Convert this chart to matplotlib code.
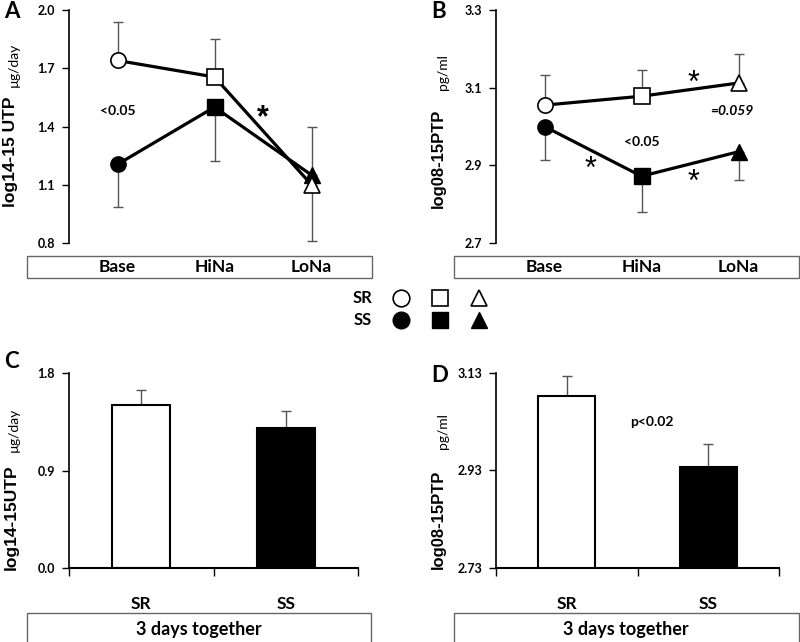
import matplotlib
matplotlib.use("Agg")
import matplotlib.pyplot as plt
from matplotlib.lines import Line2D
from matplotlib.patches import Rectangle
from matplotlib.transforms import blended_transform_factory

plt.rcParams['font.family'] = ['Lato', 'DejaVu Sans']

# ── Data ──────────────────────────────────────────────────────────────────────
diets = ["Base", "HiNa", "LoNa"]

# panel A: log14-15 UTP (µg/day)
utp_sr = [1.74, 1.655, 1.10]
utp_sr_err = [0.20, 0.195, 0.30]      # drawn upward
utp_ss = [1.205, 1.50, 1.15]
utp_ss_err = [0.22, 0.28, 0.34]       # drawn downward

# panel B: log08-15PTP (pg/ml)
ptp_sr = [3.055, 3.078, 3.112]
ptp_sr_err = [0.078, 0.068, 0.075]
ptp_ss = [3.00, 2.872, 2.935]
ptp_ss_err = [0.085, 0.092, 0.072]

groups = ["SR", "SS"]
# panel C / D: 3 days together
utp_3d = [1.505, 1.292]
utp_3d_err = [0.14, 0.157]
ptp_3d = [3.083, 2.937]
ptp_3d_err = [0.040, 0.047]

W, H = 800, 642


def fx(x):
    return x / W


def fy(y):
    return 1 - y / H


def add_ax(left, right, top, bottom):
    return fig.add_axes([fx(left), fy(bottom), (right - left) / W, (bottom - top) / H])


def style_y(ax, ticks, fmt):
    ax.set_yticks(ticks)
    ax.set_yticklabels([fmt % t for t in ticks], fontsize=9, fontweight="bold")
    ax.tick_params(axis="y", direction="out", length=5, width=1, pad=5)
    ax.spines["left"].set_linewidth(1.2)
    for s in ("top", "right"):
        ax.spines[s].set_visible(False)


fig = plt.figure(figsize=(8, 6.42), dpi=100)

ERR = "#555555"
markers = ["o", "s", "^"]


def line_panel(ax, sr, sr_err, ss, ss_err):
    xs = list(range(len(diets)))
    ax.errorbar(xs, sr, yerr=[[0] * 3, sr_err], fmt="none", ecolor=ERR,
                elinewidth=1, capsize=3.5, capthick=1, zorder=1)
    ax.errorbar(xs, ss, yerr=[ss_err, [0] * 3], fmt="none", ecolor=ERR,
                elinewidth=1, capsize=3.5, capthick=1, zorder=1)
    ax.plot(xs, ss, color="black", lw=2.3, zorder=2)
    ax.plot(xs, sr, color="black", lw=2.3, zorder=2)
    for i in xs:
        ax.plot(xs[i], ss[i], marker=markers[i], ms=11, mfc="black", mec="black",
                zorder=3, clip_on=False)
        ax.plot(xs[i], sr[i], marker=markers[i], ms=11, mfc="white", mec="black",
                mew=1.2, zorder=4, clip_on=False)
    ax.set_xlim(-0.5, 2.5)
    ax.set_xticks([])
    ax.spines["bottom"].set_visible(False)
    tr = blended_transform_factory(ax.transData, fig.transFigure)
    for i, d in enumerate(diets):
        ax.text(i, fy(267), d, transform=tr, ha="center", va="center",
                fontsize=12.5, fontweight="bold")


def bar_panel(ax, vals, errs):
    xs = list(range(len(groups)))
    ax.bar(xs, vals, width=0.4, color=["white", "black"], edgecolor="black",
           linewidth=1.5, zorder=2)
    ax.errorbar(xs, vals, yerr=[[0, 0], errs], fmt="none", ecolor=ERR,
                elinewidth=1, capsize=3.5, capthick=1, zorder=1)
    ax.set_xlim(-0.5, 1.5)
    ax.set_xticks(xs)
    ax.set_xticklabels(groups, fontsize=12.5, fontweight="bold")
    ax.tick_params(axis="x", length=0, pad=20)
    ax.set_xticks([-0.5, 0.5, 1.5], minor=True)
    ax.tick_params(axis="x", which="minor", direction="out", length=6, width=1)
    ax.spines["bottom"].set_linewidth(1.5)


def box(left, right, top, bottom):
    fig.patches.append(Rectangle((fx(left), fy(bottom)), (right - left) / W,
                                 (bottom - top) / H, transform=fig.transFigure,
                                 fill=False, edgecolor="#666666", lw=1))


def ylab(x, y, text, ux, uy, unit, size):
    fig.text(fx(x), fy(y), text, rotation=90, ha="center", va="center",
             fontsize=size, fontweight="bold", family="Liberation Sans")
    fig.text(fx(ux), fy(uy), unit, rotation=90, ha="center", va="center",
             fontsize=10)


# ── A ──
axA = add_ax(69, 360, 10, 243)
axA.set_ylim(0.8, 2.0)
line_panel(axA, utp_sr, utp_sr_err, utp_ss, utp_ss_err)
style_y(axA, [0.8, 1.1, 1.4, 1.7, 2.0], "%.1f")
axA.text(0, 1.48, "<0.05", ha="center", va="center", fontsize=10, fontweight="bold")
axA.text(1.5, 1.44, "*", ha="center", va="center", fontsize=22, fontweight="bold",
         family="Liberation Sans")
box(27, 372, 256, 278)
ylab(11, 152, "log14-15 UTP", 14, 65, "µg/day", 12.5)
fig.text(fx(4), fy(12), "A", fontsize=16, fontweight="bold", va="center")

# ── B ──
axB = add_ax(496, 787, 10, 243)
axB.set_ylim(2.7, 3.3)
line_panel(axB, ptp_sr, ptp_sr_err, ptp_ss, ptp_ss_err)
style_y(axB, [2.7, 2.9, 3.1, 3.3], "%.1f")
axB.text(1.0, 2.96, "<0.05", ha="center", va="center", fontsize=10, fontweight="bold")
axB.text(1.93, 3.041, "=0.059", ha="center", va="center", fontsize=10,
         fontweight="bold", style="italic")
for sx, sy in [(1.54, 3.11), (0.47, 2.887), (1.54, 2.855)]:
    axB.text(sx, sy, "*", ha="center", va="center", fontsize=22,
             family="Liberation Sans")
box(454, 799, 256, 278)
ylab(438, 158, "log08-15PTP", 443, 72, "pg/ml", 12)
fig.text(fx(431), fy(12), "B", fontsize=16, fontweight="bold", va="center")

# ── legend ──
fig.text(fx(372), fy(298), "SR", ha="right", va="center", fontsize=12, fontweight="bold")
fig.text(fx(372), fy(320), "SS", ha="right", va="center", fontsize=12, fontweight="bold")
for mx, m in zip([401, 440, 479], markers):
    fig.add_artist(Line2D([fx(mx)], [fy(298)], marker=m, ms=12, mfc="white",
                          mec="black", mew=1.2, transform=fig.transFigure))
    fig.add_artist(Line2D([fx(mx)], [fy(320)], marker=m, ms=12, mfc="black",
                          mec="black", transform=fig.transFigure))

# ── C ──
axC = add_ax(69, 358, 373, 568)
axC.set_ylim(0, 1.8)
bar_panel(axC, utp_3d, utp_3d_err)
style_y(axC, [0.0, 0.9, 1.8], "%.1f")
box(27, 371, 613, 645)
fig.text(fx(199), fy(629), "3 days together", ha="center", va="center",
         fontsize=13, fontweight="bold")
ylab(11, 517, "log14-15UTP", 14, 430, "µg/day", 12.5)
fig.text(fx(4), fy(362), "C", fontsize=16, fontweight="bold", va="center")

# ── D ──
axD = add_ax(496, 779, 373, 568)
axD.set_ylim(2.73, 3.13)
bar_panel(axD, ptp_3d, ptp_3d_err)
style_y(axD, [2.73, 2.93, 3.13], "%.2f")
axD.text(0.6, 3.03, "p<0.02", ha="center", va="center", fontsize=10, fontweight="bold")
box(454, 799, 613, 645)
fig.text(fx(626), fy(629), "3 days together", ha="center", va="center",
         fontsize=13, fontweight="bold")
ylab(438, 519, "log08-15PTP", 443, 431, "pg/ml", 12)
fig.text(fx(431), fy(375), "D", fontsize=16, fontweight="bold", va="center")

fig.savefig("out.png", dpi=100)
